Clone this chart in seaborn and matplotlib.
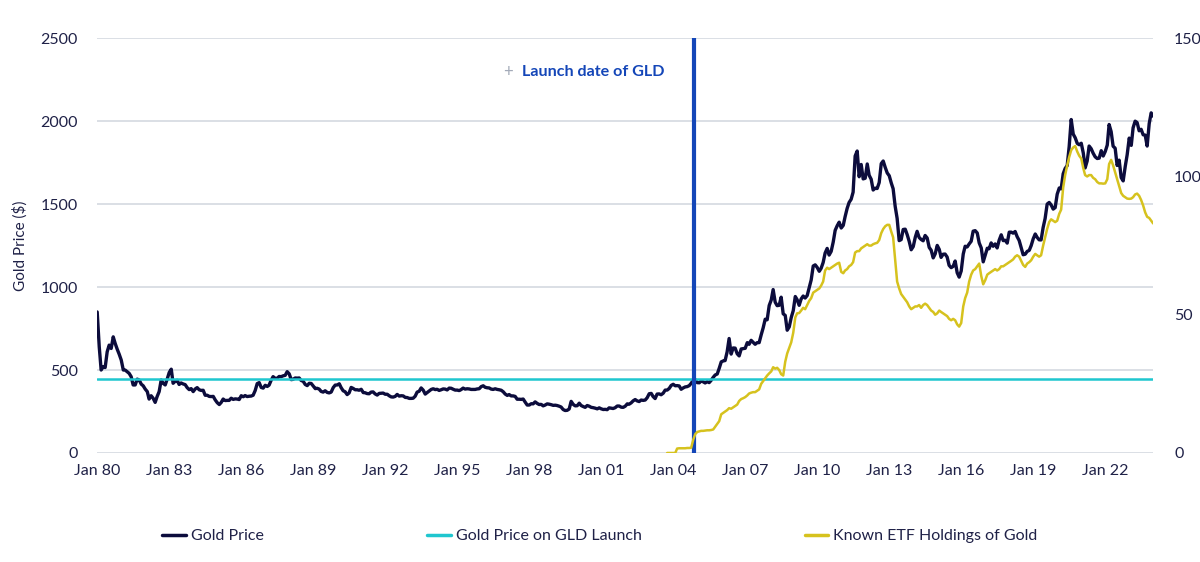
import matplotlib
matplotlib.use('Agg')
import matplotlib.pyplot as plt
import matplotlib.dates as mdates
from matplotlib.lines import Line2D
import pandas as pd
import seaborn as sns

# monthly gold price ($/oz), Jan 1980 - Jan 2024
gold_price = [
    850, 640, 500, 520, 515, 610, 650, 630, 700, 660, 625, 595,  # 1980
    560, 500, 500, 490, 480, 460, 410, 410, 445, 440, 415, 405,  # 1981
    385, 370, 325, 345, 330, 305, 340, 370, 440, 420, 410, 445,
    485, 505, 420, 432, 438, 413, 422, 416, 412, 394, 382, 388,
    370, 386, 394, 381, 377, 378, 348, 348, 341, 340, 341, 320,
    303, 292, 304, 325, 316, 317, 317, 330, 323, 326, 325, 322,  # 1985
    345, 339, 346, 340, 342, 343, 348, 376, 418, 424, 395, 391,
    408, 401, 409, 438, 460, 450, 450, 461, 460, 465, 468, 490,
    477, 442, 444, 452, 451, 452, 437, 432, 413, 406, 420, 419,
    404, 388, 390, 385, 371, 367, 375, 365, 362, 367, 394, 409,
    410, 417, 394, 375, 369, 352, 362, 395, 389, 381, 381, 378,  # 1990
    384, 364, 363, 358, 357, 367, 368, 356, 349, 359, 360, 361,
    354, 354, 345, 338, 337, 341, 353, 343, 345, 344, 335, 334,
    329, 329, 330, 342, 367, 372, 392, 379, 355, 364, 374, 383,
    387, 382, 384, 377, 381, 386, 385, 380, 391, 390, 384, 379,
    379, 376, 382, 391, 385, 387, 386, 383, 383, 383, 386, 387,  # 1995
    400, 405, 396, 393, 392, 385, 383, 387, 383, 381, 378, 369,
    355, 347, 352, 344, 344, 341, 324, 324, 323, 325, 306, 289,
    289, 297, 296, 308, 299, 292, 293, 284, 289, 296, 294, 291,
    287, 288, 286, 282, 277, 262, 256, 257, 265, 311, 293, 284,
    285, 300, 286, 280, 275, 286, 282, 275, 273, 270, 266, 272,  # 2000
    266, 262, 263, 261, 272, 270, 268, 273, 283, 283, 276, 275,
    282, 296, 294, 302, 314, 322, 314, 310, 319, 317, 319, 333,
    357, 359, 340, 328, 355, 356, 351, 360, 379, 379, 389, 407,
    414, 405, 406, 404, 384, 392, 398, 400, 406, 420, 439, 442,
    424, 423, 434, 429, 422, 430, 424, 438, 456, 470, 476, 510,  # 2005
    549, 555, 557, 610, 690, 596, 633, 632, 598, 585, 627, 629,
    631, 665, 655, 679, 667, 655, 665, 665, 712, 754, 806, 803,
    889, 922, 985, 909, 888, 890, 939, 839, 829, 740, 760, 816,
    858, 943, 924, 890, 928, 946, 934, 949, 996, 1043, 1127, 1134,
    1118, 1095, 1113, 1148, 1205, 1233, 1193, 1215, 1271, 1342, 1370, 1391,  # 2010
    1356, 1372, 1424, 1474, 1510, 1529, 1572, 1790, 1820, 1665, 1739, 1652,
    1656, 1742, 1674, 1650, 1585, 1596, 1594, 1630, 1744, 1760, 1721, 1688,
    1671, 1627, 1593, 1487, 1414, 1280, 1286, 1347, 1349, 1316, 1275, 1225,
    1244, 1300, 1336, 1299, 1287, 1279, 1311, 1296, 1239, 1222, 1176, 1200,
    1251, 1227, 1179, 1198, 1199, 1181, 1131, 1117, 1125, 1157, 1086, 1060,  # 2015
    1097, 1199, 1246, 1242, 1260, 1276, 1337, 1340, 1326, 1266, 1236, 1152,
    1192, 1234, 1231, 1266, 1246, 1260, 1236, 1283, 1315, 1280, 1282, 1265,
    1331, 1331, 1325, 1335, 1304, 1281, 1238, 1195, 1198, 1215, 1221, 1250,
    1291, 1320, 1300, 1285, 1284, 1359, 1413, 1500, 1510, 1495, 1470, 1479,
    1560, 1597, 1592, 1683, 1715, 1732, 1846, 2010, 1922, 1900, 1866, 1858,  # 2020
    1867, 1808, 1718, 1760, 1850, 1834, 1807, 1785, 1775, 1777, 1822, 1790,
    1817, 1856, 1980, 1937, 1849, 1837, 1733, 1765, 1660, 1640, 1726, 1798,
    1898, 1854, 1960, 2000, 1992, 1942, 1951, 1918, 1916, 1850, 1985, 2050,
    2030,  # Jan 2024
]

# known ETF holdings of gold (right axis), monthly from Oct 2003
etf_holdings = [
    0, 0, 0,  # 2003 Q4
    0, 0, 1.6, 1.7, 1.7, 1.7, 1.7, 1.8, 1.8, 1.9, 4.8, 6.8,  # 2004
    7.6, 7.8, 8.0, 8.0, 8.1, 8.2, 8.2, 8.3, 8.5, 9.5, 10.5, 11.5,
    14.0, 14.5, 15.0, 15.5, 16.2, 16.0, 16.5, 17.0, 17.5, 18.8, 19.5, 19.8,
    20.2, 20.8, 21.5, 21.8, 22.0, 22.0, 22.5, 23.0, 25.0, 26.0, 27.0, 28.0,
    28.8, 29.5, 31.0, 30.5, 30.8, 30.0, 28.5, 28.0, 33.0, 36.0, 38.0, 40.0,
    43.5, 49.0, 50.5, 50.6, 51.5, 52.5, 52.0, 53.5, 55.0, 56.0, 58.0, 58.5,
    59.0, 59.5, 60.5, 62.0, 66.0, 67.0, 66.5, 67.0, 67.5, 68.0, 68.5, 68.8,  # 2010
    65.5, 65.0, 66.0, 66.5, 67.5, 68.0, 69.0, 72.5, 73.0, 73.0, 74.0, 74.5,
    75.0, 75.5, 75.0, 75.0, 75.5, 75.8, 76.0, 77.0, 79.5, 81.0, 82.0, 82.5,
    82.5, 80.0, 78.0, 70.0, 62.0, 59.5, 57.5, 56.5, 55.5, 54.5, 53.0, 52.0,
    52.5, 53.0, 53.0, 53.5, 52.5, 53.5, 54.0, 53.5, 52.5, 51.5, 51.0, 50.0,
    50.5, 51.5, 51.0, 50.5, 50.0, 49.5, 48.5, 48.0, 48.5, 48.0, 46.5, 45.7,  # 2015
    47.0, 53.0, 56.0, 58.0, 62.0, 64.5, 66.0, 66.5, 67.5, 68.5, 64.0, 61.0,
    62.5, 64.5, 65.0, 65.5, 66.0, 66.5, 66.0, 66.5, 67.5, 67.5, 68.0, 68.5,
    69.0, 69.5, 70.0, 71.0, 71.5, 71.0, 69.5, 68.0, 67.3, 68.5, 69.0, 69.7,
    71.0, 72.0, 71.5, 71.0, 71.5, 75.0, 78.0, 81.0, 83.5, 84.5, 84.0, 83.5,
    84.0, 86.5, 88.0, 96.0, 100.5, 104.0, 107.0, 109.5, 110.5, 111.0, 109.0, 107.5,  # 2020
    106.5, 103.0, 100.5, 100.0, 100.5, 100.5, 99.5, 99.0, 98.0, 97.5, 97.5, 97.4,
    97.5, 99.0, 104.5, 106.0, 104.0, 101.5, 99.0, 96.5, 94.0, 93.0, 92.5, 92.0,
    91.9, 92.0, 92.5, 93.5, 93.8, 93.0, 91.5, 89.5, 87.0, 85.4, 85.0, 84.0,
    83.0,  # Jan 2024
]

gld_launch_date = '2004-11-18'
gld_launch_price = 445
series_names = ['Gold Price', 'Gold Price on GLD Launch', 'Known ETF Holdings of Gold']

NAVY = '#0c0c3c'
CYAN = '#1fc6cf'
YELLOW = '#d6c21e'
BLUE = '#1446b8'
TEXT = '#1f2147'
GRID = '#d8dce3'

gold_df = pd.DataFrame({'date': pd.date_range('1980-01-01', periods=len(gold_price), freq='MS'),
                        'price': gold_price})
etf_df = pd.DataFrame({'date': pd.date_range('2003-10-01', periods=len(etf_holdings), freq='MS'),
                       'holdings': etf_holdings})

sns.set_theme(style='white')
plt.rcParams['font.family'] = ['Lato', 'DejaVu Sans']

fig, ax = plt.subplots(figsize=(12, 5.62), dpi=100)
fig.subplots_adjust(left=0.081, right=0.961, top=0.932, bottom=0.194)

ax.yaxis.grid(True, color=GRID, lw=1.3)
ax.set_axisbelow(True)
sns.lineplot(data=gold_df, x='date', y='price', ax=ax, color=NAVY, lw=2.4, zorder=3)
ax.axhline(gld_launch_price, color=CYAN, lw=1.8, zorder=4)
ax.axvline(pd.Timestamp(gld_launch_date), color=BLUE, lw=3, zorder=5)

ax2 = ax.twinx()
sns.lineplot(data=etf_df, x='date', y='holdings', ax=ax2, color=YELLOW, lw=1.8)

ax.set_ylim(0, 2500)
ax2.set_ylim(0, 150)
ax.set_yticks(range(0, 2501, 500))
ax2.set_yticks(range(0, 151, 50))
ax.set_xlim(gold_df['date'].iloc[0], gold_df['date'].iloc[-1])
ax.xaxis.set_major_locator(mdates.YearLocator(3, month=1, day=1))
ax.xaxis.set_major_formatter(mdates.DateFormatter('%b %y'))

ax.set_xlabel('')
ax2.set_xlabel('')
ax2.set_ylabel('')
ax.set_ylabel('Gold Price ($)', fontsize=11, color=TEXT, labelpad=9)

for a in (ax, ax2):
    for s in a.spines.values():
        s.set_visible(False)
    a.tick_params(length=0, labelsize=11.5, colors=TEXT)
ax.tick_params(axis='y', pad=14)
ax2.tick_params(axis='y', pad=15)
ax.tick_params(axis='x', pad=8)

ax.text(0.389, 0.918, '+', transform=ax.transAxes, color='#a3aab8', fontsize=12,
        ha='center', va='center')
ax.text(0.4025, 0.918, 'Launch date of GLD', transform=ax.transAxes, color=BLUE,
        fontsize=11.6, fontweight='bold', ha='left', va='center')

handles = [Line2D([], [], color=NAVY, lw=2.5),
           Line2D([], [], color=CYAN, lw=2.5),
           Line2D([], [], color=YELLOW, lw=2.5)]
fig.legend(handles, series_names, loc='center', bbox_to_anchor=(0.5, 0.046), ncol=3,
           frameon=False, fontsize=11.5, handlelength=1.5, handletextpad=0.3,
           columnspacing=10.2, labelcolor=TEXT)

fig.savefig('out.png', dpi=100)
